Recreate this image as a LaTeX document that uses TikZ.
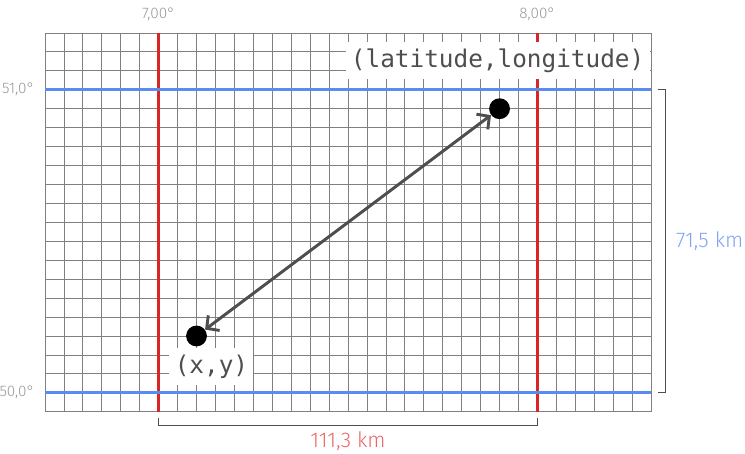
\documentclass[tikz,border=0pt]{standalone}
\usepackage{fontspec}
\setmainfont{Fira Sans Light}
\setmonofont{DejaVu Sans Mono}
\definecolor{GridGray}{RGB}{128,128,128}
\definecolor{LonRed}{RGB}{218,37,37}
\definecolor{LatBlue}{RGB}{88,140,240}
\definecolor{LonText}{RGB}{232,104,104}
\definecolor{LatText}{RGB}{128,165,245}
\definecolor{Ink}{RGB}{78,78,78}
\usetikzlibrary{arrows.meta,positioning}

\begin{document}
\begin{tikzpicture}[x=0.5cm,y=0.5cm,
  deg/.style={text=gray!80,font=\fontsize{11.5}{13}\selectfont},
  dist/.style={font=\fontsize{16}{19}\selectfont},
  dot/.style={circle,fill=black,inner sep=0pt,minimum size=5.5mm},
  coordbox/.style={fill=white,text=Ink,inner xsep=4pt,inner ysep=5pt,font=\ttfamily\fontsize{18.3}{20}\selectfont},
  chev/.tip={Straight Barb[length=2.4mm,width=5mm]}]
  \useasboundingbox (-2.376,-2.22) rectangle (36.96,21.74);
  \draw[GridGray,line width=0.6pt,step=1] (0,0) grid (32,20);
  \draw[LonRed,line width=1.8pt] (6,0) -- (6,20) (26,0) -- (26,20);
  \draw[LatBlue,line width=2pt] (0,1) -- (32,1) (0,17) -- (32,17);
  \foreach \x/\lab in {6/{7,00°},26/{8,00°}} {
    \node[deg] at (\x,21) {\lab};
  }
  \foreach \y/\lab in {1/{50,0°},17/{51,0°}} {
    \node[deg,anchor=east] at (-0.3,\y) {\lab};
  }
  \node[coordbox] (geolabel) at (23.9,18.55) {(latitude,longitude)};
  \node[coordbox] (xylabel) at (8.79,2.37) {(x,y)};
  \node[dot] (geopt) at (24,16) {};
  \node[dot] (xypt) at (8,4) {};
  \draw[Ink,line width=2.2pt,chev-chev] (geopt) -- (xypt);
  \draw[Ink,line width=0.8pt] (32.36,17) -- (32.76,17) -- (32.76,1) -- (32.36,1);
  \node[dist,text=LatText] (latkm) at (35.1,9) {71,5 km};
  \draw[Ink,line width=0.8pt] (6,-0.33) -- (6,-0.75) -- (26,-0.75) -- (26,-0.33);
  \node[dist,text=LonText] (lonkm) at (16,-1.54) {111,3 km};
\end{tikzpicture}
\end{document}
